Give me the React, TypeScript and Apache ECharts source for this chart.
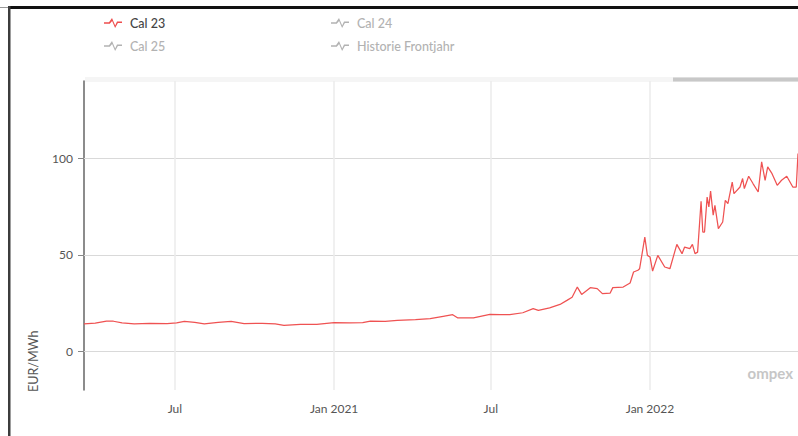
import React, { useEffect, useRef } from "react";
import * as echarts from "echarts";

// ---- data ----
const dates = [
  "2020-03-18", "2020-03-31", "2020-04-13", "2020-04-21", "2020-05-01", "2020-05-15",
  "2020-06-02", "2020-06-22", "2020-07-03", "2020-07-12", "2020-07-24", "2020-08-04",
  "2020-08-20", "2020-09-04", "2020-09-19", "2020-10-10", "2020-10-25", "2020-11-04",
  "2020-11-23", "2020-12-12", "2021-01-01", "2021-01-19", "2021-02-03", "2021-02-12",
  "2021-03-01", "2021-03-15", "2021-04-05", "2021-04-22", "2021-05-07", "2021-05-18",
  "2021-05-24", "2021-06-11", "2021-06-30", "2021-07-12", "2021-07-23", "2021-08-07",
  "2021-08-19", "2021-08-25", "2021-09-07", "2021-09-19", "2021-09-27", "2021-10-03",
  "2021-10-09", "2021-10-14", "2021-10-24", "2021-11-01", "2021-11-07", "2021-11-16",
  "2021-11-19", "2021-12-01", "2021-12-09", "2021-12-13", "2021-12-18", "2021-12-20",
  "2021-12-26", "2021-12-29", "2022-01-01", "2022-01-04", "2022-01-10", "2022-01-18",
  "2022-01-24", "2022-02-01", "2022-02-07", "2022-02-10", "2022-02-16", "2022-02-19",
  "2022-02-22", "2022-02-25", "2022-03-01", "2022-03-03", "2022-03-05", "2022-03-08",
  "2022-03-10", "2022-03-12", "2022-03-15", "2022-03-17", "2022-03-21", "2022-03-26",
  "2022-03-29", "2022-04-01", "2022-04-06", "2022-04-08", "2022-04-15", "2022-04-18",
  "2022-04-20", "2022-04-25", "2022-04-30", "2022-05-06", "2022-05-10", "2022-05-14",
  "2022-05-17", "2022-05-22", "2022-05-28", "2022-06-02", "2022-06-08", "2022-06-15",
  "2022-06-19", "2022-06-21",
];
const cal23 = [
  14.3, 14.6, 15.7, 15.6, 14.8, 14.3,
  14.5, 14.4, 14.7, 15.5, 15.0, 14.3,
  15.0, 15.5, 14.4, 14.5, 14.2, 13.5,
  14.0, 14.0, 14.9, 14.8, 14.9, 15.7,
  15.5, 16.0, 16.4, 16.9, 18.1, 19.0,
  17.3, 17.3, 19.2, 19.0, 19.0, 20.0,
  22.1, 21.2, 22.5, 24.3, 26.4, 28.0,
  33.3, 29.5, 33.0, 32.5, 29.9, 30.2,
  33.0, 33.3, 35.4, 41.1, 42.0, 42.8,
  59.2, 49.7, 48.9, 41.6, 49.7, 43.7,
  42.8, 55.4, 50.6, 54.0, 53.2, 55.4,
  50.6, 51.4, 77.7, 61.8, 61.8, 79.9,
  74.8, 83.0, 70.5, 75.6, 63.6, 67.0,
  78.2, 76.5, 87.7, 81.7, 85.1, 89.5,
  84.3, 90.7, 86.9, 82.5, 98.1, 88.6,
  95.5, 92.0, 86.0, 88.6, 90.7, 85.1,
  85.1, 102.4,
];
const legendLeft = ["Cal 23", "Cal 25"];
const legendRight = ["Cal 24", "Historie Frontjahr"];
const hiddenSeries = ["Cal 24", "Cal 25", "Historie Frontjahr"];
const xTickDates = ["2020-07-01", "2021-01-01", "2021-07-01", "2022-01-01"];
const yTickValues = [0, 50, 100];
const monthNames = ["Jan", "Feb", "Mar", "Apr", "May", "Jun", "Jul", "Aug", "Sep", "Oct", "Nov", "Dec"];
const xMin = "2020-03-18";
const xMax = "2022-06-21";

const toTs = (s: string) => new Date(s + "T00:00:00").getTime();
const DAY = 86400000;

const FONT = "Lato, 'Open Sans', sans-serif";
const ICON =
  "path://M0,4.3 L5,4.3 L8,0 L11.2,7.4 L13,3.6 L18,3.6 L18,5.1 L13.9,5.1 L11.1,10 L8.1,3.1 L5.8,5.8 L0,5.8 Z";

export default function App() {
  const ref = useRef<HTMLDivElement>(null);
  useEffect(() => {
    if (!ref.current) return;
    const chart = echarts.init(ref.current, null, { renderer: "svg" });
    const selected: Record<string, boolean> = { "Cal 23": true };
    hiddenSeries.forEach((n) => (selected[n] = false));
    const legendCommon = {
      orient: "vertical",
      top: 11,
      itemWidth: 18,
      itemHeight: 10,
      itemGap: 9,
      icon: ICON,
      selected,
      inactiveColor: "#b2b2b2",
      inactiveBorderColor: "#8a8a8a",
      inactiveBorderWidth: 0.6,
      textStyle: {
        fontFamily: FONT,
        fontSize: 12.5,
        color: "#444",
        fontWeight: 500,
        lineHeight: 14,
        padding: [0, 0, 0, 3],
      },
    };
    const tickSet = new Set(xTickDates.map(toTs));
    chart.setOption({
      animation: false,
      backgroundColor: "#fff",
      legend: [
        { ...legendCommon, left: 99, data: legendLeft },
        { ...legendCommon, left: 326, data: legendRight },
      ],
      grid: { left: 84, right: 0, top: 81, bottom: 46 },
      xAxis: {
        type: "time",
        min: toTs(xMin),
        max: toTs(xMax),
        minInterval: 180 * DAY,
        maxInterval: 184 * DAY,
        axisLine: { show: false },
        axisTick: { show: false },
        splitLine: { show: false },
        axisLabel: {
          showMinLabel: false,
          showMaxLabel: false,
          margin: 12,
          color: "#555",
          fontFamily: FONT,
          fontSize: 12,
          formatter: (v: number) => {
            const d = new Date(v);
            if (!tickSet.has(v) && !(d.getDate() === 1 && (d.getMonth() === 0 || d.getMonth() === 6))) return "";
            return d.getMonth() === 0 ? `${monthNames[0]} ${d.getFullYear()}` : monthNames[d.getMonth()];
          },
        },
      },
      yAxis: {
        type: "value",
        min: -20,
        max: 140,
        axisLine: { show: true, lineStyle: { color: "#666", width: 1.5 } },
        axisTick: { show: true, length: 6, customValues: yTickValues, lineStyle: { color: "#888" } },
        splitLine: { show: false },
        axisLabel: {
          customValues: yTickValues,
          margin: 11,
          color: "#555",
          fontFamily: FONT,
          fontSize: 12,
        },
      },
      series: [
        {
          name: "_grid",
          type: "line",
          data: [],
          z: 1,
          markLine: {
            z: 1,
            silent: true,
            symbol: ["none", "none"],
            label: { show: false },
            emphasis: { disabled: true },
            lineStyle: { color: "#d9d9d9", width: 1, type: "solid" },
            data: [
              ...yTickValues.map((v) => ({ yAxis: v })),
              ...xTickDates.map((d) => ({
                xAxis: toTs(d),
                lineStyle: { color: "#ebebeb", width: 1.5, type: "solid" },
              })),
            ],
          },
        },
        {
          name: "Cal 23",
          type: "line",
          z: 10,
          showSymbol: false,
          color: "#ee4d4d",
          lineStyle: { width: 1.25, color: "#ef5252" },
          data: dates.map((d, i) => [toTs(d), cal23[i]]),
        },
        ...hiddenSeries.map((n) => ({ name: n, type: "line", data: [], color: "#8a8a8a" })),
      ],
      graphic: [
        { type: "rect", left: 85, top: 77, shape: { width: 713, height: 5 }, style: { fill: "#f5f5f5" }, silent: true },
        { type: "rect", left: 673, top: 77.5, shape: { width: 125, height: 4 }, style: { fill: "#c8c8c8" }, silent: true },
        { type: "rect", left: 8, top: 6, shape: { width: 790, height: 3 }, style: { fill: "#111" }, silent: true },
        { type: "rect", left: 8, top: 6, shape: { width: 2.5, height: 430 }, style: { fill: "#3c3c3c" }, silent: true },
        { type: "line", shape: { x1: 0, y1: 7.5, x2: 8, y2: 7.5 }, style: { stroke: "#999", lineWidth: 1 }, silent: true },
        {
          type: "text",
          x: 33,
          y: 392,
          rotation: Math.PI / 2,
          style: {
            text: "EUR/MWh",
            fill: "#555",
            fontFamily: FONT,
            fontSize: 12.5,
            textAlign: "left",
            textVerticalAlign: "middle",
          },
          silent: true,
        },
        {
          type: "text",
          x: 793,
          y: 373,
          style: {
            text: "ompex",
            fill: "#c6c6c6",
            fontFamily: FONT,
            fontSize: 15,
            fontWeight: "bold",
            textAlign: "right",
            textVerticalAlign: "middle",
          },
          silent: true,
        },
      ],
    });
    return () => chart.dispose();
  }, []);
  return (
    <div
      ref={ref}
      style={{ position: "fixed", left: 0, top: 0, width: 798, height: 436, background: "#fff" }}
    />
  );
}
